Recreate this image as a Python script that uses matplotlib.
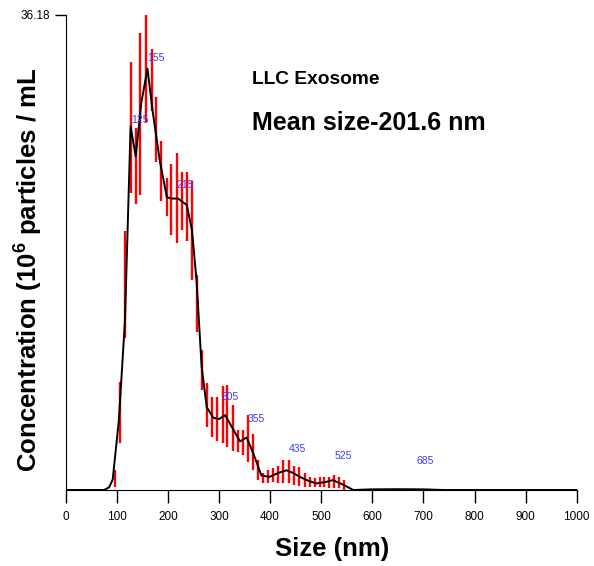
import numpy as np
import matplotlib
matplotlib.use('Agg')
import matplotlib.pyplot as plt

plt.rcParams['font.family'] = ['Liberation Sans', 'DejaVu Sans']
plt.rcParams['mathtext.fontset'] = 'custom'
plt.rcParams['mathtext.rm'] = 'Liberation Sans'
plt.rcParams['mathtext.bf'] = 'Liberation Sans:bold'

# mean concentration curve (size nm, 10^6 particles/mL)
size_nm = [0, 75, 85, 92, 104, 116, 127, 137, 148, 160, 170, 184, 198, 207, 220, 237,
           247, 256, 266, 276, 289, 300, 312, 328, 341, 354, 367, 383, 399, 416, 432,
           445, 458, 475, 490, 508, 523, 543, 563, 600, 650, 700, 740, 1000]
conc = [0, 0, 0.2, 0.8, 5.3, 12.9, 27.7, 25.4, 29.5, 32.1, 28.9, 25.1, 22.3, 22.2, 22.2, 21.7,
        19.8, 16.0, 9.4, 6.3, 5.5, 5.4, 5.7, 4.6, 3.7, 4.0, 2.8, 1.1, 1.0, 1.3, 1.5,
        1.3, 1.0, 0.7, 0.5, 0.6, 0.75, 0.4, 0.0, 0.05, 0.06, 0.05, 0.0, 0.0]

# error bars (size nm, low, high)
err_x = [96, 106, 117, 127, 137, 146, 158, 168, 177, 186, 198, 207, 217, 228, 238, 248,
         256, 266, 276, 287, 297, 307, 316, 327, 337, 346, 356, 367, 377, 387, 396, 406,
         416, 426, 436, 447, 457, 468, 478, 488, 498, 506, 516, 525, 535, 545]
err_lo = [0.23, 3.58, 11.55, 22.6, 21.8, 22.5, 28.0, 28.9, 25.0, 22.0, 20.9, 19.4, 18.8, 19.8, 19.0, 16.0,
          12.0, 7.6, 4.8, 4.0, 3.7, 3.6, 3.3, 3.0, 2.9, 2.7, 2.1, 1.5, 0.76, 0.5, 0.5, 0.6,
          0.51, 0.51, 0.51, 0.38, 0.30, 0.25, 0.25, 0.25, 0.20, 0.20, 0.15, 0.15, 0.15, 0.0]
err_hi = [1.52, 8.25, 19.7, 32.6, 27.6, 34.8, 36.2, 33.6, 29.9, 26.6, 23.8, 24.8, 25.7, 24.2, 24.2, 23.5,
          16.4, 10.7, 8.15, 7.1, 7.1, 7.9, 8.0, 6.5, 4.6, 4.6, 5.7, 4.3, 2.3, 1.3, 1.5, 1.7,
          1.83, 2.28, 2.28, 1.83, 1.78, 1.32, 0.99, 0.91, 0.99, 1.01, 1.01, 1.14, 1.01, 0.76]

# peak labels: (text, x, y)
peak_txt = ['125', '155', '215', '305', '355', '435', '525', '685']
peak_x = [128, 160, 217, 306, 356, 437, 527, 687]
peak_y = [28.2, 32.9, 23.2, 7.05, 5.4, 3.1, 2.6, 2.17]

y_max = 36.18

fig = plt.figure(figsize=(5.94, 5.66), dpi=100)
ax = fig.add_axes([0.1106, 0.1343, 0.8603, 0.8392])

ax.vlines(err_x, err_lo, err_hi, colors='#ff0000', linewidth=1.7, zorder=2)
ax.plot(size_nm, conc, color='black', linewidth=1.4, zorder=3)

for t, x, y in zip(peak_txt, peak_x, peak_y):
    ax.text(x, y, t, color='#3a3aff', fontsize=7.5, ha='left', va='center', zorder=4)

ax.set_xlim(0, 1000)
ax.set_ylim(0, y_max)
ax.set_xticks(np.arange(0, 1001, 100))
ax.set_yticks([y_max])
ax.set_yticklabels(['36.18'])
ax.tick_params(axis='both', direction='out', length=9, width=1, labelsize=8.5,
               colors='black', pad=6)
ax.tick_params(axis='y', length=8, pad=3)
ax.spines['top'].set_visible(False)
ax.spines['right'].set_visible(False)

# axis titles placed in figure pixels
fig.text(332 / 594, 1 - 549 / 566, 'Size (nm)', fontsize=18.5, fontweight='bold',
         ha='center', va='center')
fig.text(28 / 594, 1 - 270 / 566, r'Concentration (10$^{\mathbf{6}}$ particles / mL',
         fontsize=18.5, fontweight='bold', rotation=90, ha='center', va='center')

ax.text(0.365, 0.865, 'LLC Exosome', transform=ax.transAxes, fontsize=13.8,
        fontweight='bold', ha='left', va='center')
ax.text(0.365, 0.772, 'Mean size-201.6 nm', transform=ax.transAxes, fontsize=18,
        fontweight='bold', ha='left', va='center')

fig.savefig('out.png', dpi=100)
